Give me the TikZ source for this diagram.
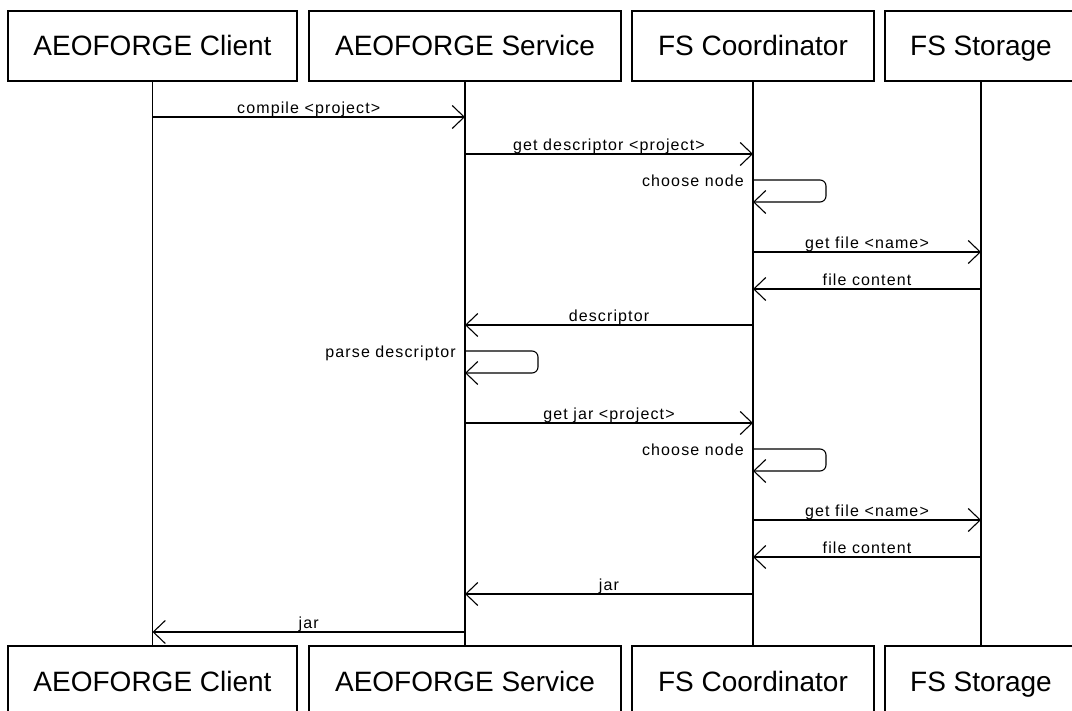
\documentclass[tikz,border=0pt]{standalone}
\usepackage{fontspec}
\setmainfont{Liberation Sans}
\newfontfamily\msgfont[LetterSpace=7]{Liberation Sans}
\usetikzlibrary{arrows.meta}
\tikzset{
  actor/.style={draw, line width=1.1pt, minimum width=#1, minimum height=70pt, inner sep=0pt,
    text height=20pt, text depth=0pt, font=\fontsize{28}{32}\selectfont},
  life/.style={line width=1.1pt},
  msg/.style={line width=1.1pt, -{Straight Barb[length=12pt,width=23pt,line width=1.1pt]}},
  lbl/.style={font=\msgfont\fontsize{16}{19}\selectfont, inner sep=0pt, anchor=base, yshift=3.5pt},
  selflbl/.style={font=\msgfont\fontsize{16}{19}\selectfont, inner sep=0pt, anchor=base east, xshift=-9pt, yshift=-7pt},
  loop/.style={msg, rounded corners=6pt}
}
\begin{document}
\begin{tikzpicture}[x=1pt,y=-1pt]
\useasboundingbox (0,0) rectangle (1072,711);
\clip (0,0) rectangle (1072,711);
% actors top
\node[actor=289pt] (clT) at (152.5,46) {AEOFORGE Client};
\node[actor=312pt] (svT) at (465,46) {AEOFORGE Service};
\node[actor=242pt] (coT) at (753,46) {FS Coordinator};
\node[actor=192pt] (stT) at (981,46) {FS Storage};
% actors bottom
\node[actor=289pt] (clB) at (152.5,681) {AEOFORGE Client};
\node[actor=312pt] (svB) at (465,681) {AEOFORGE Service};
\node[actor=242pt] (coB) at (753,681) {FS Coordinator};
\node[actor=192pt] (stB) at (981,681) {FS Storage};
% lifelines
\draw[life] (clT) -- (clB);
\draw[life] (svT) -- (svB);
\draw[life] (coT) -- (coB);
\draw[life] (stT) -- (stB);
% messages
\draw[msg] (clT |- 0,117) -- node[lbl]{compile <project>} (svT |- 0,117);
\draw[msg] (svT |- 0,154) -- node[lbl]{get descriptor <project>} (coT |- 0,154);
\draw[loop] (coT |- 0,180) -- ++(73,0) -- ++(0,22) -- (coT |- 0,202);
\node[selflbl] (l3) at (coT |- 0,180) {choose node};
\draw[msg] (coT |- 0,252) -- node[lbl]{get file <name>} (stT |- 0,252);
\draw[msg] (stT |- 0,289) -- node[lbl]{file content} (coT |- 0,289);
\draw[msg] (coT |- 0,325) -- node[lbl]{descriptor} (svT |- 0,325);
\draw[loop] (svT |- 0,351) -- ++(73,0) -- ++(0,22) -- (svT |- 0,373);
\node[selflbl] (l7) at (svT |- 0,351) {parse descriptor};
\draw[msg] (svT |- 0,423) -- node[lbl]{get jar <project>} (coT |- 0,423);
\draw[loop] (coT |- 0,449) -- ++(73,0) -- ++(0,22) -- (coT |- 0,471);
\node[selflbl] (l9) at (coT |- 0,449) {choose node};
\draw[msg] (coT |- 0,520) -- node[lbl]{get file <name>} (stT |- 0,520);
\draw[msg] (stT |- 0,557) -- node[lbl]{file content} (coT |- 0,557);
\draw[msg] (coT |- 0,594) -- node[lbl]{jar} (svT |- 0,594);
\draw[msg] (svT |- 0,632) -- node[lbl]{jar} (clT |- 0,632);
\end{tikzpicture}
\end{document}
